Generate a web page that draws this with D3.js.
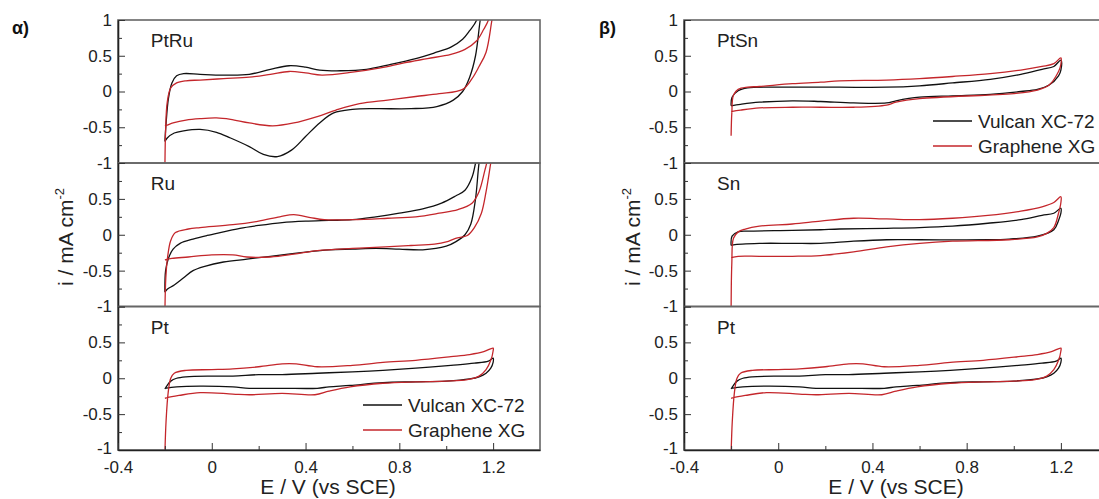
<!DOCTYPE html>
<html><head><meta charset="utf-8">
<script src="https://cdn.jsdelivr.net/npm/d3@7"></script>
<style>
body{margin:0;background:#fff;}
svg{display:block;font-family:"Liberation Sans",Arial,sans-serif;}
</style></head><body>
<svg id="c" width="1099" height="499"></svg>
<script>
// ---------- data ----------
const xMajorTicks = [-0.4, 0, 0.4, 0.8, 1.2];
const xMinorTicks = [-0.2, 0.2, 0.6, 1.0];
const yMajorTicks = [-1, -0.5, 0, 0.5, 1];
const yMinorTicks = [-0.75, -0.25, 0.25, 0.75];
const seriesNames = ["Vulcan XC-72", "Graphene XG"];
const alphaNames = ["PtRu", "Ru", "Pt"];
const betaNames = ["PtSn", "Sn", "Pt"];

const ptruVulcan = [[-0.2,-0.7],[-0.195,-0.45],[-0.185,-0.1],[-0.17,0.12],[-0.15,0.22],[-0.12,0.25],[-0.05,0.24],[0.05,0.23],[0.16,0.24],[0.25,0.31],[0.33,0.36],[0.4,0.34],[0.46,0.3],[0.55,0.29],[0.66,0.31],[0.75,0.37],[0.87,0.46],[0.95,0.54],[1.02,0.62],[1.07,0.73],[1.1,0.85],[1.13,1.0],[1.15,1.3],
  [1.16,1.3],[1.145,1.0],[1.125,0.5],[1.1,0.2],[1.07,0.0],[1.03,-0.12],[0.96,-0.21],[0.85,-0.24],[0.7,-0.24],[0.6,-0.25],[0.52,-0.3],[0.46,-0.44],[0.4,-0.63],[0.34,-0.82],[0.28,-0.91],[0.22,-0.88],[0.16,-0.77],[0.08,-0.65],[0.02,-0.57],[-0.05,-0.53],[-0.12,-0.55],[-0.16,-0.58],[-0.19,-0.65],[-0.2,-0.7]];
const ptruGraphene = [[-0.2,-1.1],[-0.197,-0.55],[-0.19,-0.15],[-0.175,0.05],[-0.15,0.12],[-0.11,0.15],[-0.05,0.16],[0.05,0.18],[0.16,0.2],[0.25,0.24],[0.33,0.28],[0.4,0.26],[0.47,0.23],[0.6,0.27],[0.72,0.33],[0.82,0.4],[0.92,0.46],[1.02,0.52],[1.08,0.59],[1.13,0.71],[1.16,0.87],[1.18,1.0],[1.2,1.3],
  [1.21,1.3],[1.195,1.0],[1.17,0.55],[1.14,0.35],[1.11,0.18],[1.07,0.03],[0.97,-0.03],[0.87,-0.07],[0.75,-0.12],[0.63,-0.17],[0.53,-0.26],[0.45,-0.35],[0.35,-0.44],[0.26,-0.48],[0.16,-0.44],[0.08,-0.39],[0.02,-0.37],[-0.05,-0.38],[-0.11,-0.4],[-0.165,-0.44],[-0.19,-0.47],[-0.2,-0.48]];

const ruVulcan = [[-0.2,-0.8],[-0.197,-0.5],[-0.185,-0.33],[-0.165,-0.2],[-0.135,-0.12],[-0.08,-0.06],[-0.02,-0.01],[0.05,0.04],[0.12,0.09],[0.2,0.13],[0.3,0.17],[0.4,0.19],[0.5,0.2],[0.6,0.21],[0.7,0.25],[0.8,0.3],[0.9,0.36],[0.98,0.44],[1.04,0.54],[1.08,0.62],[1.11,0.8],[1.125,1.0],[1.14,1.3],
  [1.155,1.3],[1.14,1.0],[1.125,0.5],[1.105,0.15],[1.08,0.0],[1.04,-0.1],[1.0,-0.16],[0.9,-0.21],[0.8,-0.2],[0.7,-0.19],[0.6,-0.2],[0.5,-0.21],[0.38,-0.25],[0.25,-0.3],[0.15,-0.34],[0.05,-0.38],[-0.03,-0.44],[-0.08,-0.5],[-0.12,-0.6],[-0.16,-0.7],[-0.19,-0.76],[-0.2,-0.8]];
const ruGraphene = [[-0.2,-1.1],[-0.196,-0.6],[-0.188,-0.3],[-0.175,-0.08],[-0.155,0.03],[-0.1,0.08],[-0.05,0.1],[0.09,0.14],[0.2,0.19],[0.29,0.25],[0.35,0.28],[0.42,0.24],[0.48,0.21],[0.6,0.21],[0.75,0.23],[0.87,0.25],[0.97,0.3],[1.05,0.35],[1.11,0.44],[1.14,0.6],[1.165,0.9],[1.18,1.1],[1.19,1.3],
  [1.205,1.3],[1.19,1.0],[1.17,0.6],[1.15,0.3],[1.12,0.1],[1.09,-0.01],[1.04,-0.05],[1.0,-0.1],[0.95,-0.13],[0.85,-0.15],[0.74,-0.17],[0.6,-0.19],[0.45,-0.22],[0.35,-0.27],[0.25,-0.31],[0.15,-0.31],[0.09,-0.28],[0.0,-0.28],[-0.1,-0.31],[-0.17,-0.33],[-0.2,-0.35]];

const ptVulcan = [[-0.2,-0.15],[-0.19,-0.1],[-0.175,-0.04],[-0.15,0.0],[-0.11,0.02],[0.0,0.03],[0.09,0.03],[0.2,0.05],[0.3,0.05],[0.45,0.07],[0.6,0.09],[0.73,0.11],[0.87,0.14],[1.02,0.18],[1.12,0.21],[1.18,0.24],[1.2,0.28],
  [1.2,0.22],[1.19,0.14],[1.17,0.07],[1.14,0.02],[1.1,-0.01],[1.0,-0.04],[0.87,-0.05],[0.73,-0.06],[0.59,-0.1],[0.5,-0.12],[0.45,-0.14],[0.3,-0.14],[0.16,-0.14],[0.09,-0.12],[-0.05,-0.11],[-0.15,-0.12],[-0.2,-0.14]];
const ptGraphene = [[-0.2,-1.05],[-0.195,-0.6],[-0.186,-0.2],[-0.175,0.0],[-0.16,0.07],[-0.11,0.11],[0.0,0.12],[0.09,0.13],[0.2,0.16],[0.3,0.2],[0.36,0.2],[0.45,0.16],[0.6,0.18],[0.73,0.22],[0.87,0.25],[1.02,0.3],[1.1,0.33],[1.16,0.37],[1.2,0.42],
  [1.2,0.38],[1.19,0.25],[1.17,0.12],[1.14,0.03],[1.09,-0.02],[1.0,-0.04],[0.87,-0.05],[0.73,-0.07],[0.59,-0.12],[0.5,-0.18],[0.44,-0.23],[0.3,-0.21],[0.16,-0.23],[0.09,-0.22],[-0.05,-0.2],[-0.14,-0.24],[-0.19,-0.27],[-0.2,-0.28]];

const ptsnVulcan = [[-0.2,-0.2],[-0.196,-0.08],[-0.17,0.01],[-0.13,0.05],[0.06,0.06],[0.26,0.06],[0.46,0.06],[0.6,0.08],[0.74,0.12],[0.9,0.17],[1.03,0.24],[1.12,0.31],[1.17,0.35],[1.2,0.44],
  [1.2,0.3],[1.19,0.22],[1.15,0.09],[1.1,0.03],[1.03,0.0],[0.9,-0.04],[0.74,-0.06],[0.6,-0.08],[0.5,-0.13],[0.46,-0.16],[0.32,-0.16],[0.18,-0.14],[0.06,-0.13],[-0.08,-0.15],[-0.16,-0.18],[-0.2,-0.2]];
const ptsnGraphene = [[-0.2,-0.62],[-0.197,-0.3],[-0.19,-0.05],[-0.17,0.03],[-0.13,0.06],[-0.08,0.07],[0.06,0.11],[0.18,0.13],[0.26,0.15],[0.46,0.16],[0.6,0.18],[0.74,0.21],[0.9,0.25],[1.03,0.3],[1.12,0.35],[1.17,0.39],[1.2,0.47],
  [1.2,0.38],[1.19,0.28],[1.15,0.09],[1.1,0.02],[1.0,-0.03],[0.89,-0.05],[0.6,-0.1],[0.5,-0.15],[0.46,-0.19],[0.32,-0.22],[0.18,-0.22],[0.06,-0.22],[-0.08,-0.23],[-0.16,-0.26],[-0.2,-0.28]];

const snVulcan = [[-0.2,-0.15],[-0.196,-0.02],[-0.17,0.04],[-0.13,0.05],[0.06,0.06],[0.18,0.07],[0.26,0.08],[0.46,0.09],[0.6,0.1],[0.74,0.12],[0.89,0.16],[1.03,0.21],[1.12,0.27],[1.17,0.3],[1.2,0.37],
  [1.2,0.3],[1.19,0.2],[1.17,0.07],[1.1,-0.02],[0.98,-0.06],[0.89,-0.07],[0.6,-0.07],[0.46,-0.07],[0.32,-0.09],[0.18,-0.12],[0.06,-0.12],[-0.08,-0.12],[-0.19,-0.14],[-0.2,-0.15]];
const snGraphene = [[-0.2,-1.05],[-0.197,-0.4],[-0.19,-0.05],[-0.17,0.04],[-0.14,0.08],[-0.08,0.12],[0.06,0.15],[0.18,0.19],[0.32,0.23],[0.46,0.22],[0.6,0.21],[0.74,0.23],[0.89,0.27],[1.03,0.33],[1.12,0.39],[1.17,0.45],[1.2,0.53],
  [1.2,0.45],[1.19,0.3],[1.17,0.1],[1.14,0.02],[1.1,-0.03],[0.98,-0.07],[0.74,-0.09],[0.6,-0.12],[0.46,-0.17],[0.32,-0.24],[0.18,-0.29],[0.06,-0.3],[-0.08,-0.3],[-0.17,-0.3],[-0.2,-0.32]];

// ---------- layout ----------
const svg = d3.select("#c");
const colors = ["#111111", "#c4262b"];
const rows = [[20, 163], [163, 306.5], [306.5, 450]];
const panels = [
  {tag: "α)", tagX: 12, left: 118, right: 540, names: alphaNames,
   data: [[ptruVulcan, ptruGraphene], [ruVulcan, ruGraphene], [ptVulcan, ptGraphene]],
   legendRow: 2, legendX: 363, legendY: 405, ylabX: 66, xlabX: 328},
  {tag: "β)", tagX: 599, left: 684, right: 1108, names: betaNames,
   data: [[ptsnVulcan, ptsnGraphene], [snVulcan, snGraphene], [ptVulcan, ptGraphene]],
   legendRow: 0, legendX: 933, legendY: 121, ylabX: 633, xlabX: 896}
];
const defs = svg.append("defs");
const fmt = v => d3.format("")(v).replace("−", "-");

panels.forEach((p, pi) => {
  const x = d3.scaleLinear().domain([-0.4, 1.4]).range([p.left, p.right]);
  svg.append("text").attr("x", p.tagX).attr("y", 34).attr("font-size", 18)
    .attr("font-weight", "bold").attr("fill", "#111").text(p.tag);

  rows.forEach((r, ri) => {
    const y = d3.scaleLinear().domain([-1, 1]).range([r[1], r[0]]);
    const id = "clip" + pi + "_" + ri;
    defs.append("clipPath").attr("id", id).append("rect")
      .attr("x", p.left).attr("y", r[0]).attr("width", p.right - p.left).attr("height", r[1] - r[0]);
    const g = svg.append("g");
    const line = d3.line().x(d => x(d[0])).y(d => y(d[1])).curve(d3.curveCatmullRom.alpha(0.5));
    const cg = g.append("g").attr("clip-path", `url(#${id})`);
    p.data[ri].forEach((s, si) => {
      cg.append("path").datum(s).attr("d", line).attr("fill", "none")
        .attr("stroke", colors[si]).attr("stroke-width", 1.3).attr("stroke-linejoin", "round");
    });
    // frame
    g.append("rect").attr("x", p.left).attr("y", r[0]).attr("width", p.right - p.left)
      .attr("height", r[1] - r[0]).attr("fill", "none").attr("stroke", "#666").attr("stroke-width", 1.6);
    // y axis
    const labTicks = ri === 0 ? yMajorTicks : yMajorTicks.filter(v => v < 1);
    const ya = g.append("g").attr("transform", `translate(${p.left},0)`)
      .call(d3.axisLeft(y).tickValues(yMajorTicks).tickSizeInner(-7).tickSizeOuter(0).tickPadding(6)
        .tickFormat(v => labTicks.includes(v) ? fmt(v) : ""));
    ya.select(".domain").attr("stroke", "#222").attr("stroke-width", 1.6);
    ya.selectAll("line").attr("stroke", "#333");
    ya.selectAll("text").attr("font-size", 17).attr("fill", "#222").attr("font-family", "Liberation Sans, Arial, sans-serif");
    if (ri === 2) ya.selectAll("text").filter(v => v === -1).attr("dy", "0.2em");
    const ym = g.append("g").attr("transform", `translate(${p.left},0)`)
      .call(d3.axisLeft(y).tickValues(yMinorTicks).tickSizeInner(-4).tickSizeOuter(0).tickFormat(""));
    ym.select(".domain").remove();
    ym.selectAll("line").attr("stroke", "#333");
    // subplot name
    g.append("text").attr("x", x(-0.26)).attr("y", r[0] + 27).attr("font-size", 19)
      .attr("fill", "#222").text(p.names[ri]);
    // x axis on bottom row
    if (ri === 2) {
      const xa = g.append("g").attr("transform", `translate(0,${r[1]})`)
        .call(d3.axisBottom(x).tickValues(xMajorTicks).tickSizeInner(-7).tickSizeOuter(0).tickPadding(11)
          .tickFormat(fmt));
      xa.select(".domain").attr("stroke", "#222").attr("stroke-width", 1.6);
      xa.selectAll("line").attr("stroke", "#333");
      xa.selectAll("text").attr("font-size", 17).attr("fill", "#222").attr("font-family", "Liberation Sans, Arial, sans-serif");
      const xm = g.append("g").attr("transform", `translate(0,${r[1]})`)
        .call(d3.axisBottom(x).tickValues(xMinorTicks).tickSizeInner(-4).tickSizeOuter(0).tickFormat(""));
      xm.select(".domain").remove();
      xm.selectAll("line").attr("stroke", "#333");
    }
    // legend
    if (ri === p.legendRow) {
      seriesNames.forEach((n, si) => {
        const ly = p.legendY + si * 25;
        g.append("line").attr("x1", p.legendX).attr("x2", p.legendX + 39).attr("y1", ly).attr("y2", ly)
          .attr("stroke", colors[si]).attr("stroke-width", 1.3);
        g.append("text").attr("x", p.legendX + 45).attr("y", ly + 7).attr("font-size", 19)
          .attr("fill", "#222").text(n);
      });
    }
  });

  // axis titles
  const yl = svg.append("text").attr("transform", `translate(${p.ylabX + 7},237) rotate(-90)`)
    .attr("text-anchor", "middle").attr("font-size", 21).attr("fill", "#222");
  yl.append("tspan").text("i / mA cm");
  yl.append("tspan").attr("font-size", 13).attr("dy", -9).text("-2");
  svg.append("text").attr("x", p.xlabX).attr("y", 494).attr("text-anchor", "middle")
    .attr("font-size", 21).attr("fill", "#222").text("E / V (vs SCE)");
});
</script>
</body></html>
